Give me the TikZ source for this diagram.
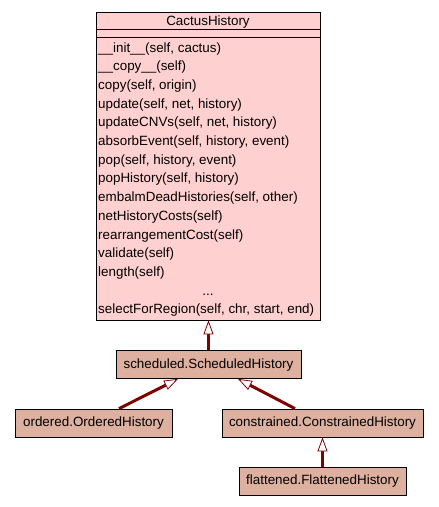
\documentclass[tikz,border=0pt]{standalone}
\usepackage{fontspec}
\setmainfont{Liberation Sans}
\usetikzlibrary{arrows.meta}
\definecolor{pinkfill}{RGB}{255,208,208}
\definecolor{brownfill}{RGB}{222,176,160}
\definecolor{edgered}{RGB}{128,0,0}
\begin{document}
\begin{tikzpicture}[x=1pt,y=-1pt, font=\fontsize{13.4}{15}\selectfont,
 classbox/.style={draw=black, line width=0.8pt, fill=brownfill, minimum height=28pt, inner sep=0pt, text height=10pt, text depth=3pt},
 member/.style={anchor=west, inner sep=0pt, text height=10pt, text depth=3pt},
 inherit/.style={draw=edgered, line width=3pt, -{Triangle[open, length=14pt, width=10pt, line width=0.8pt, fill=white]}}]
\useasboundingbox (0,0) rectangle (439,507);
\node[draw, fill=pinkfill, minimum width=224pt, minimum height=308pt, inner sep=0pt, line width=0.8pt] (cactus) at (208,166) {};
\node[member, anchor=center] (title) at (208,22) {CactusHistory};
\draw[line width=0.8pt] (cactus.west |- 0,29) -- (cactus.east |- 0,29);
\draw[line width=0.8pt] (cactus.west |- 0,37) -- (cactus.east |- 0,37);
\foreach \t [count=\i from 0] in {{\_\_init\_\_(self, cactus)},{\_\_copy\_\_(self)},{copy(self, origin)},{update(self, net, history)},{updateCNVs(self, net, history)},{absorbEvent(self, history, event)},{pop(self, history, event)},{popHistory(self, history)},{embalmDeadHistories(self, other)},{netHistoryCosts(self)},{rearrangementCost(self)},{validate(self)},{length(self)}}
  \node[member] (m\i) at (98, 48.5+18.7*\i) {\t};
\node[member, anchor=center] (dots) at (208, 48.5+18.7*13) {...};
\node[member] (msel) at (98, 48.5+18.7*14) {selectForRegion(self, chr, start, end)};
\node[classbox, minimum width=185pt] (scheduled) at (208.5,364.5) {scheduled.ScheduledHistory};
\node[classbox, minimum width=157pt] (ordered) at (93.5,423) {ordered.OrderedHistory};
\node[classbox, minimum width=201pt] (constrained) at (322.5,423) {constrained.ConstrainedHistory};
\node[classbox, minimum width=167pt] (flattened) at (322.5,481) {flattened.FlattenedHistory};
\draw[inherit] (scheduled.north) -- (scheduled.north |- cactus.south);
\draw[inherit] ([xshift=25.5pt]ordered.north) -- ([xshift=-30.5pt]scheduled.south);
\draw[inherit] ([xshift=-27.5pt]constrained.north) -- ([xshift=29.5pt]scheduled.south);
\draw[inherit] (flattened.north) -- (constrained.south);
\end{tikzpicture}
\end{document}
